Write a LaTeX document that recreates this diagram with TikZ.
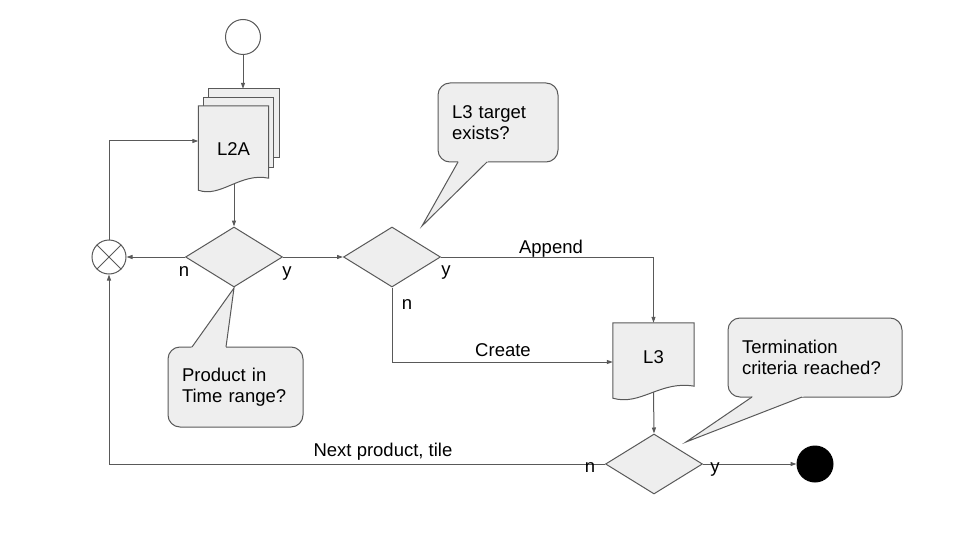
\documentclass[tikz,border=0pt]{standalone}
\usepackage{fontspec}
\setmainfont{Liberation Sans}
\usetikzlibrary{shapes.geometric,arrows.meta,calc,backgrounds}
\definecolor{linegray}{HTML}{595959}
\definecolor{shapefill}{HTML}{EEEEEE}

\newcommand\docfont{\fontsize{18.5}{21.5}\selectfont}

\tikzset{
  shapeline/.style={draw=linegray, line width=1pt},
  decision/.style={diamond, shapeline, fill=shapefill, minimum width=97pt, minimum height=60pt, inner sep=0pt},
  docnode/.style={rectangle, inner sep=0pt, font=\docfont},
  terminal/.style={circle, shapeline, minimum size=35pt, inner sep=0pt},
  callout/.style={rectangle, rounded corners=12pt, shapeline, fill=shapefill, align=left, inner sep=0pt, font=\docfont},
  flow/.style={linegray, line width=1pt, -{Triangle[length=6pt,width=4pt]}},
  lbl/.style={font=\docfont, inner sep=0pt, anchor=base},
}

% page with a wavy bottom, drawn round a named node
\newcommand\docpage[1]{%
  \draw[shapeline, fill=shapefill] (#1.north west) -- (#1.north east) -- ($(#1.south east)+(0,-6)$)
    .. controls ($(#1.south)+(7,-12)$) and ($(#1.south)+(-13,14)$) .. ($(#1.south west)+(0,6)$) -- cycle;}

% pointer of a speech bubble: edge y, x1, x2, tip
\newcommand\calltail[4]{%
  \fill[shapefill] ($(#2,#1)!-3pt!(#4)$) -- (#4) -- ($(#3,#1)!-3pt!(#4)$) -- cycle;
  \draw[shapeline] (#2,#1) -- (#4) -- (#3,#1);}

\begin{document}
\begin{tikzpicture}[x=1pt, y=-1pt]
  \useasboundingbox (0,0) rectangle (960,540);

  % start, end and merge
  \node[terminal] (start) at (243,37) {};
  \node[terminal, fill=black, draw=black, minimum size=36pt] (stop) at (815,464) {};
  \node[terminal, minimum size=34pt] (merge) at (109,257) {};
  \draw[shapeline] (merge.north west) -- (merge.south east) (merge.north east) -- (merge.south west);

  % documents
  \node[docnode, minimum width=70pt, minimum height=68pt] (l2aback) at (244,123) {};
  \node[docnode, minimum width=69pt, minimum height=69pt] (l2amid) at (238.5,132.5) {};
  \node[docnode, minimum width=70pt, minimum height=78pt, text height=21pt, text depth=0pt] (l2a) at (233.5,145) {L2A};
  \node[docnode, minimum width=81pt, minimum height=69pt] (l3) at (653.5,357.5) {L3};
  \begin{scope}[on background layer]
    \draw[shapeline, fill=shapefill] (l2aback.south west) rectangle (l2aback.north east);
    \draw[shapeline, fill=shapefill] (l2amid.south west) rectangle (l2amid.north east);
    \docpage{l2a}
    \docpage{l3}
  \end{scope}

  % decisions
  \node[decision] (inrange) at (234,257) {};
  \node[decision] (exists) at (392,257) {};
  \node[decision] (done) at (654,464) {};

  % callouts
  \node[callout, text width=92pt, minimum width=120pt, minimum height=79pt] (askexists) at (498,122.5) {L3 target\\exists?};
  \node[callout, text width=107pt, minimum width=135pt, minimum height=80pt] (askrange) at (235.5,387) {Product in\\Time range?};
  \node[callout, text width=146pt, minimum width=174pt, minimum height=79pt] (askdone) at (815,357.5) {Termination\\criteria reached?};
  \coordinate (tipexists) at (422,226);
  \coordinate (tiprange) at (234,288);
  \coordinate (tipdone) at (686,442);
  \calltail{162}{458}{487}{tipexists}
  \calltail{347}{192}{226}{tiprange}
  \calltail{397}{752}{802}{tipdone}

  % connectors
  \draw[flow] (start.south) -- (start.south |- l2aback.north);
  \draw[flow] (inrange.north |- l2a.south) -- (inrange.north);
  \draw[flow] (inrange) -- (merge);
  \draw[flow] (inrange) -- (exists);
  \draw[flow] (merge.north) |- ($(l2a.west)+(0,-4)$);
  \draw[flow] (exists.east) -| (l3.north);
  \draw[flow] (exists.south) |- ($(l3.west)+(0,4.5)$);
  \draw[flow] (l3.south) -- (done.north);
  \draw[flow] (done) -- (stop);
  \draw[flow] (done.west) -| (merge.south);

  % labels
  \node[lbl] (inrangeno) at (184,276) {n};
  \node[lbl] (inrangeyes) at (287,276) {y};
  \node[lbl] (existsyes) at (446,275) {y};
  \node[lbl] (existsno) at (407,309) {n};
  \node[lbl] (doneno) at (590,472) {n};
  \node[lbl] (doneyes) at (715,472) {y};
  \node[lbl] (append) at (551,253) {Append};
  \node[lbl] (create) at (503,356) {Create};
  \node[lbl] (next) at (383,456) {Next product, tile};
\end{tikzpicture}
\end{document}
